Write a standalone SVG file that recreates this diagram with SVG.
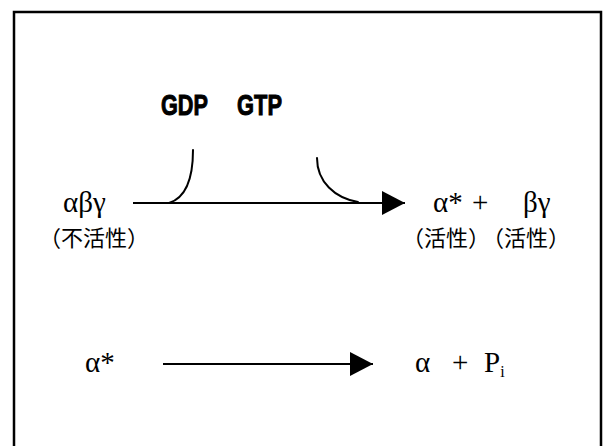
<svg xmlns="http://www.w3.org/2000/svg" width="615" height="446" viewBox="0 0 615 446">
  <style>
    .frame { fill: none; stroke: #000; stroke-width: 2.5; }
    .conn { fill: none; stroke: #000; stroke-width: 2; }
    .curve { fill: none; stroke: #000; stroke-width: 2; stroke-linecap: round; }
    .nuc { font-family: "Liberation Sans", Arial, sans-serif; font-weight: bold; font-size: 30px; fill: #000; stroke: #000; stroke-width: 1; }
    .greek { font-family: "Liberation Serif", "Times New Roman", serif; font-size: 29px; fill: #000; }
    .cjk { font-family: "Noto Sans CJK SC", "Noto Sans CJK JP", sans-serif; font-size: 22px; fill: #000; text-anchor: middle; }
  </style>
  <defs>
    <marker id="arrow" markerUnits="userSpaceOnUse" markerWidth="26" markerHeight="26" refX="23" refY="12" orient="auto">
      <path d="M0 0 L23 12 L0 24 Z" fill="#000"/>
    </marker>
  </defs>
  <rect width="615" height="446" fill="#fff"/>
  <path class="frame" d="M14 447 V12 H601 V447"/>

  <g id="connectors">
    <path class="conn" d="M133 203 H405" marker-end="url(#arrow)"/>
    <path class="curve" d="M193 150 C193 181 185 198 169 203"/>
    <path class="curve" d="M317 158 C317 182 335 198 358 202"/>
    <path class="conn" d="M163 364 H373" marker-end="url(#arrow)"/>
  </g>

  <g id="gdp"><text class="nuc" x="161" y="115" textLength="47" lengthAdjust="spacingAndGlyphs">GDP</text></g>
  <g id="gtp"><text class="nuc" x="237" y="115" textLength="45" lengthAdjust="spacingAndGlyphs">GTP</text></g>

  <g id="abg">
    <text class="greek" x="63" y="212">αβγ</text>
    <text class="cjk" x="94" y="246">（不活性）</text>
  </g>
  <g id="alpha-star-top">
    <text class="greek" x="433" y="212">α*</text>
    <text class="greek" x="472" y="212">+</text>
    <text class="cjk" x="446" y="246">（活性）</text>
  </g>
  <g id="bg">
    <text class="greek" x="523" y="212">βγ</text>
    <text class="cjk" x="526" y="246">（活性）</text>
  </g>

  <g id="alpha-star-bottom"><text class="greek" x="85" y="372">α*</text></g>
  <g id="alpha"><text class="greek" x="415" y="372">α</text></g>
  <g id="plus"><text class="greek" x="452" y="372">+</text></g>
  <g id="pi"><text class="greek" x="484" y="372">P<tspan font-size="16" dy="5">i</tspan></text></g>
</svg>
